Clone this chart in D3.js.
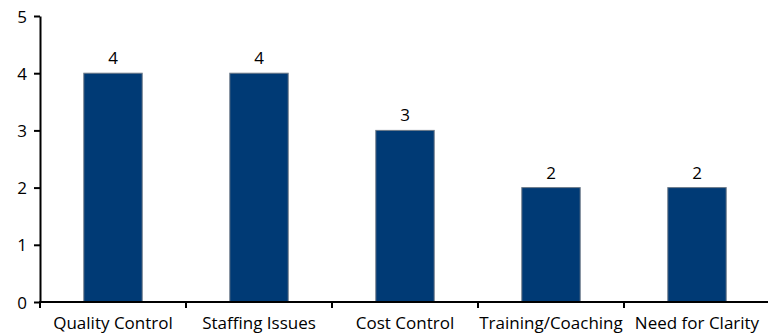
<!DOCTYPE html>
<html>
<head>
<meta charset="utf-8">
<script src="https://cdn.jsdelivr.net/npm/d3@7"></script>
<style>
  html, body { margin: 0; padding: 0; background: #fff; }
  svg text { font-family: "Open Sans", "Noto Sans", sans-serif; fill: #000; }
</style>
</head>
<body>
<svg id="chart" width="768" height="333"></svg>
<script>
// Issue categories and the number of mentions for each
const categories = ["Quality Control", "Staffing Issues", "Cost Control", "Training/Coaching", "Need for Clarity"];
const counts = [4, 4, 3, 2, 2];
const yTicks = [0, 1, 2, 3, 4, 5];

const svg = d3.select("#chart");
const plotLeft = 40, plotRight = 770, plotTop = 16, plotBottom = 302;

const x = d3.scaleBand().domain(categories).range([plotLeft, plotRight]).paddingInner(0.6).paddingOuter(0.3);
const y = d3.scaleLinear().domain([0, 5]).range([plotBottom, plotTop]);

// bars
svg.append("g").selectAll("rect")
  .data(categories)
  .join("rect")
  .attr("x", (d) => x(d))
  .attr("y", (d, i) => y(counts[i]))
  .attr("width", x.bandwidth())
  .attr("height", (d, i) => y(0) - y(counts[i]))
  .attr("fill", "#003a75")
  .attr("stroke", "#6d7a88")
  .attr("stroke-width", 1);

// value labels
svg.append("g").selectAll("text")
  .data(categories)
  .join("text")
  .attr("x", (d) => x(d) + x.bandwidth() / 2)
  .attr("y", (d, i) => y(counts[i]) - 9)
  .attr("text-anchor", "middle")
  .style("font-size", "17px")
  .text((d, i) => counts[i]);

// y axis
const yAxis = svg.append("g")
  .attr("transform", `translate(${plotLeft},0)`)
  .call(d3.axisLeft(y).tickValues(yTicks).tickFormat(d3.format("d")).tickSize(6).tickPadding(7).tickSizeOuter(0));
yAxis.select(".domain").attr("stroke", "#000").attr("stroke-width", 2);
yAxis.selectAll(".tick line").attr("stroke", "#000").attr("stroke-width", 2);
yAxis.selectAll(".tick text").style("font-size", "17px").attr("dy", "0.36em");

// x axis with ticks at category boundaries
const xAxis = svg.append("g")
  .attr("transform", `translate(0,${plotBottom})`);
xAxis.append("line")
  .attr("x1", plotLeft - 1).attr("x2", plotRight)
  .attr("stroke", "#000").attr("stroke-width", 2);
const step = x.step();
const boundaries = categories.map((d) => x(d) - x.paddingOuter() * step);
xAxis.selectAll(".bound")
  .data(boundaries)
  .join("line")
  .attr("x1", (d) => d).attr("x2", (d) => d)
  .attr("y1", 0).attr("y2", 6)
  .attr("stroke", "#000").attr("stroke-width", 2);
xAxis.selectAll(".cat")
  .data(categories)
  .join("text")
  .attr("x", (d) => x(d) + x.bandwidth() / 2)
  .attr("y", 27)
  .attr("text-anchor", "middle")
  .style("font-size", "17px")
  .text((d) => d);
</script>
</body>
</html>
